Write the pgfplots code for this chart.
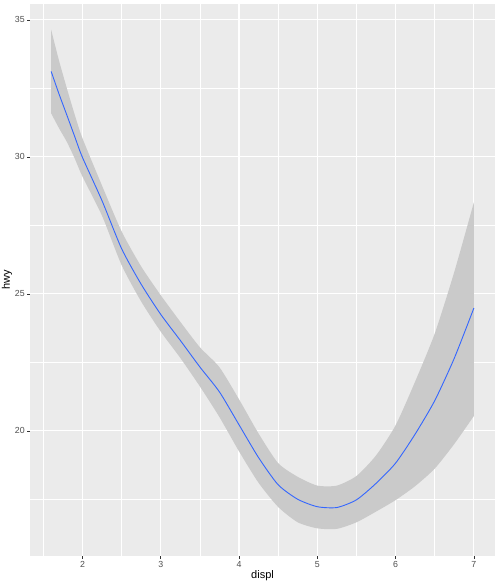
\documentclass[border=0pt]{standalone}
\usepackage{fontspec}
\setmainfont{Liberation Sans}
\usepackage{pgfplots}
\pgfplotsset{compat=1.18}
\usepgfplotslibrary{fillbetween}
\usepackage{pgfplotstable}
\definecolor{ggbg}{HTML}{EBEBEB}
\definecolor{ribbon}{HTML}{CACACA}
\definecolor{ggblue}{HTML}{3366FF}
\definecolor{grey30}{HTML}{4D4D4D}
\definecolor{grey20}{HTML}{333333}
\pgfplotstableread{
x y lo hi
1.6 33.12 31.59 34.64
1.7 32.30 31.05 33.52
1.8 31.53 30.55 32.51
1.9 30.75 29.95 31.55
2.0 29.98 29.28 30.68
2.25 28.40 27.85 28.95
2.5 26.65 26.05 27.28
2.75 25.35 24.72 26.00
3.0 24.25 23.62 24.95
3.25 23.30 22.66 23.98
3.5 22.33 21.62 23.05
3.75 21.42 20.50 22.32
4.0 20.22 19.25 21.15
4.25 19.02 18.10 19.90
4.5 18.03 17.22 18.82
4.75 17.50 16.66 18.32
5.0 17.23 16.44 18.00
5.25 17.20 16.42 18.00
5.5 17.48 16.66 18.35
5.75 18.08 17.05 19.10
6.0 18.82 17.47 20.20
6.25 19.88 17.98 21.80
6.5 21.10 18.62 23.55
6.75 22.65 19.52 25.80
7.0 24.48 20.54 28.34
}\smoothdata
\begin{document}
\begin{tikzpicture}
\begin{axis}[
  at={(0,0)}, anchor=south west,
  scale only axis, width=465bp, height=552bp,
  xmin=1.33, xmax=7.27, ymin=15.43, ymax=35.58,
  axis background/.style={fill=ggbg},
  axis line style={draw=none},
  xtick={2,3,4,5,6,7}, ytick={20,25,30,35},
  minor xtick={1.5,2.5,3.5,4.5,5.5,6.5},
  minor ytick={17.5,22.5,27.5,32.5},
  grid=both,
  major grid style={white, line width=1.1bp},
  minor grid style={white, line width=0.55bp},
  tick align=outside, xtick pos=bottom, ytick pos=left,
  major tick length=2.75bp, minor tick length=0pt,
  tick style={grey20, line width=0.55bp},
  /pgf/number format/assume math mode=true,
  ticklabel style={font=\fontsize{8.8bp}{10bp}\selectfont, text=grey30},
  xticklabel style={yshift=1bp},
  yticklabel style={xshift=1bp},
  xlabel={displ}, ylabel={hwy},
  label style={font=\fontsize{11bp}{13bp}\selectfont},
  xlabel style={yshift=4bp},
  ylabel style={yshift=-4bp},
]
\addplot[name path=up, draw=none, smooth, tension=0.4, forget plot] table[x=x, y=hi] {\smoothdata};
\addplot[name path=lo, draw=none, smooth, tension=0.4, forget plot] table[x=x, y=lo] {\smoothdata};
\addplot[fill=ribbon, draw=none, forget plot] fill between[of=up and lo];
\addplot[ggblue, line width=0.9bp, no marks, smooth, tension=0.4] table[x=x, y=y] {\smoothdata};
\end{axis}
\pgfresetboundingbox
\path[use as bounding box] (-30bp,-30bp) rectangle (470bp,556bp);
\end{tikzpicture}
\end{document}
